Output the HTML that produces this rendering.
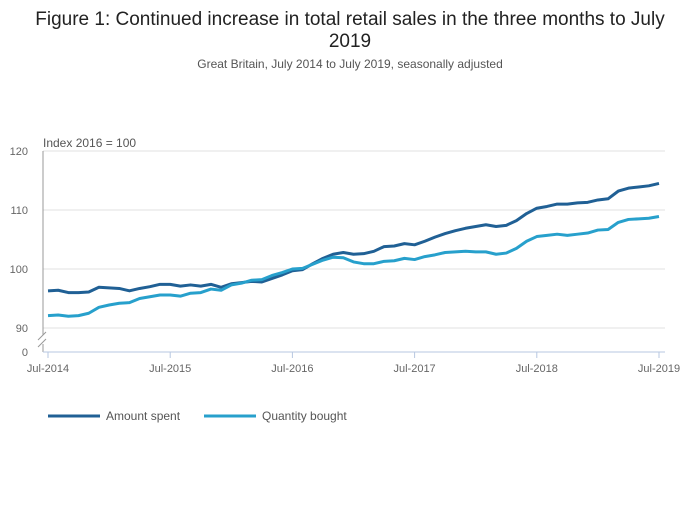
<!DOCTYPE html>
<html><head><meta charset="utf-8"><style>
body{margin:0;background:#fff;font-family:"Liberation Sans",sans-serif;}
svg text{font-family:"Liberation Sans",sans-serif;}
</style></head><body>
<svg width="700" height="502">
<text x="350" y="25" text-anchor="middle" font-size="19" fill="#222">Figure 1: Continued increase in total retail sales in the three months to July</text>
<text x="350" y="47" text-anchor="middle" font-size="19" fill="#222">2019</text>
<text x="350" y="68" text-anchor="middle" font-size="12" fill="#555">Great Britain, July 2014 to July 2019, seasonally adjusted</text>
<text x="43" y="147" font-size="12" fill="#555">Index 2016 = 100</text>
<g id="grid"></g><g id="xaxis"></g><g id="lines"></g>
<g>
<line x1="48" y1="416" x2="100" y2="416" stroke="#206095" stroke-width="3"/>
<text x="106" y="420" font-size="12" fill="#555">Amount spent</text>
<line x1="204" y1="416" x2="256" y2="416" stroke="#27a0cc" stroke-width="3"/>
<text x="262" y="420" font-size="12" fill="#555">Quantity bought</text>
</g>
</svg>
<script>
const yTicks=[90,100,110,120];
const xTickLabels=["Jul-2014","Jul-2015","Jul-2016","Jul-2017","Jul-2018","Jul-2019"];
const amountSpent=[96.3,96.4,96.0,96.0,96.1,96.9,96.8,96.7,96.3,96.7,97.0,97.4,97.4,97.1,97.3,97.1,97.4,96.9,97.5,97.7,97.9,97.8,98.4,99.0,99.7,99.9,100.9,101.8,102.5,102.8,102.5,102.6,103.0,103.8,103.9,104.3,104.1,104.7,105.4,106.0,106.5,106.9,107.2,107.5,107.2,107.4,108.2,109.4,110.3,110.6,111.0,111.0,111.2,111.3,111.7,111.9,113.2,113.7,113.9,114.1,114.5];
const quantityBought=[92.1,92.2,92.0,92.1,92.5,93.5,93.9,94.2,94.3,95.0,95.3,95.6,95.6,95.4,95.9,96.0,96.6,96.4,97.3,97.6,98.1,98.2,98.9,99.4,100.0,100.1,100.8,101.5,102.0,101.9,101.2,100.9,100.9,101.3,101.4,101.8,101.6,102.1,102.4,102.8,102.9,103.0,102.9,102.9,102.5,102.7,103.5,104.7,105.5,105.7,105.9,105.7,105.9,106.1,106.6,106.7,107.9,108.4,108.5,108.6,108.9];
const NS="http://www.w3.org/2000/svg";
const X0=48,X1=659;
function xs(i){return X0+(X1-X0)*i/60;}
function ys(v){return 328-(v-90)*(328-151)/30;}
function mk(t,a,p){const e=document.createElementNS(NS,t);for(const k in a)e.setAttribute(k,a[k]);p.appendChild(e);return e;}
const grid=document.getElementById('grid');
yTicks.forEach(v=>{
 const l=mk('line',{x1:43,x2:665,y1:ys(v),y2:ys(v),stroke:'#e0e0e0','stroke-width':1},grid);
 
 
 const t=mk('text',{x:28,y:ys(v)+4,'font-size':11,fill:'#666','text-anchor':'end'},grid);
 t.textContent=v;
 
 
});
const g0=mk('line',{x1:43,x2:665,y1:352,y2:352,stroke:'#e0e0e0'},grid);


const t0=mk('text',{x:28,y:356,'font-size':11,fill:'#666','text-anchor':'end'},grid);
t0.textContent='0';


const ya=mk('path',{d:'M43 151 V335 M43 344 V352 M38 340 l8 -8 M38 347 l8 -8',stroke:'#999',fill:'none'},grid);


const xa=document.getElementById('xaxis');
const xl=mk('line',{x1:43,x2:665,y1:352,y2:352,stroke:'#b7c7e0'},xa);


xTickLabels.forEach((s,k)=>{
 const x=xs(k*12);
 const tk=mk('line',{x1:x,x2:x,y1:352,y2:358,stroke:'#b7c7e0'},xa);
 
 
 const t=mk('text',{x:x,y:372,'font-size':11,fill:'#666','text-anchor':'middle'},xa);
 t.textContent=s;
 
 
});
const lg=document.getElementById('lines');
[[amountSpent,'#206095','line-amount-spent'],[quantityBought,'#27a0cc','line-quantity-bought']].forEach(([d,c,n])=>{
 const p=mk('polyline',{points:d.map((v,i)=>xs(i)+','+ys(v)).join(' '),fill:'none',stroke:c,'stroke-width':3,'stroke-linejoin':'round'},lg);
 
 
});
</script>
</body></html>
